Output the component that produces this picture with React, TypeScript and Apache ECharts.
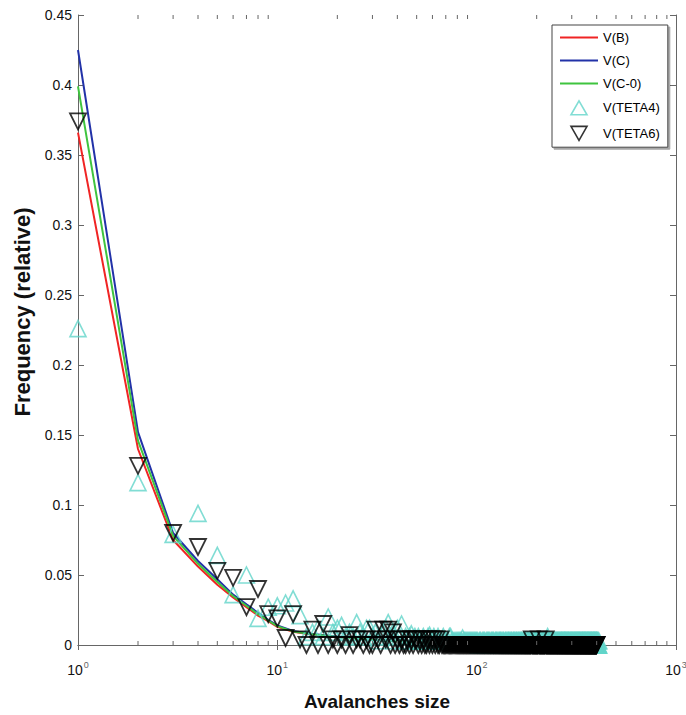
import React, { useEffect, useRef } from "react";
import * as echarts from "echarts";

// ---- data ----
const lineSizes = [1, 2, 3, 4, 5, 6, 7, 8, 9, 10, 12, 15, 20, 30, 50, 100, 200, 400];
const vB = [0.366, 0.14, 0.075, 0.056, 0.043, 0.034, 0.027, 0.021, 0.017, 0.013, 0.0094, 0.0073, 0.0056, 0.0037, 0.0018, 0.0007, 0.0003, 0.0001];
const vC = [0.425, 0.152, 0.08, 0.06, 0.047, 0.036, 0.029, 0.023, 0.018, 0.014, 0.01, 0.0078, 0.006, 0.004, 0.002, 0.0008, 0.0003, 0.0001];
const vC0 = [0.399, 0.146, 0.078, 0.058, 0.045, 0.035, 0.028, 0.022, 0.0175, 0.0135, 0.0097, 0.0076, 0.0058, 0.0038, 0.0019, 0.0008, 0.0003, 0.0001];

// TETA4: avalanche sizes 1..60
const teta4Head = [
  0.226, 0.116, 0.079, 0.094, 0.064, 0.036, 0.05, 0.019, 0.027, 0.028,
  0.03, 0.033, 0.021, 0.006, 0.009, 0.012, 0.006, 0.02, 0.009, 0.012,
  0.014, 0.006, 0.009, 0.006, 0.016, 0.009, 0.006, 0.012, 0.012, 0.006,
  0.009, 0.003, 0.006, 0.009, 0.012, 0.016, 0.006, 0.009, 0.003, 0.012,
  0.006, 0.015, 0.003, 0.006, 0.003, 0.006, 0.008, 0.003, 0.006, 0.003,
  0.006, 0.003, 0.003, 0.006, 0.003, 0.003, 0.006, 0.007, 0.003, 0.003,
];
// TETA4: avalanche sizes 61..410
const teta4Tail = [
  0.006, 0.003, 0.003, 0.006, 0.003, 0.003, 0.003, 0.006, 0.003, 0.003, 0.003, 0.003, 0.006, 0.006, 0.003, 0.003, 0.003, 0.003, 0.003, 0.003,
  0.003, 0.003, 0.003, 0.003, 0.005, 0.003, 0.003, 0.003, 0.003, 0.003, 0.003, 0.003, 0.003, 0.003, 0.003, 0.003, 0.003, 0.003, 0.003, 0.003,
  0.003, 0, 0.003, 0.003, 0.003, 0, 0.003, 0.003, 0.003, 0.003, 0, 0.003, 0.003, 0.003, 0.003, 0.003, 0, 0.003, 0.003, 0.003,
  0.003, 0.003, 0, 0.003, 0.003, 0.003, 0.003, 0, 0.003, 0.003, 0.003, 0.003, 0.003, 0, 0.003, 0.003, 0.003, 0, 0.003, 0.003,
  0.003, 0, 0.003, 0.003, 0.003, 0.003, 0, 0.003, 0.003, 0.003, 0, 0.003, 0.003, 0.003, 0.003, 0, 0.003, 0.003, 0.003, 0.003,
  0, 0.003, 0.003, 0.003, 0, 0.003, 0.003, 0.003, 0.003, 0, 0.003, 0.003, 0, 0.003, 0.003, 0.003, 0.003, 0, 0.003, 0.003,
  0.003, 0.003, 0, 0.003, 0.003, 0, 0.003, 0.003, 0.003, 0.003, 0, 0.003, 0.003, 0, 0.003, 0.003, 0.003, 0, 0.003, 0.003,
  0.003, 0, 0.003, 0.003, 0, 0.003, 0.003, 0.003, 0, 0.003, 0.003, 0, 0.003, 0.003, 0.003, 0, 0.003, 0.003, 0, 0.003,
  0.003, 0.003, 0, 0.003, 0.003, 0.003, 0.006, 0.003, 0, 0.003, 0.003, 0, 0.003, 0.003, 0, 0.003, 0.003, 0.003, 0, 0.003,
  0.003, 0, 0.003, 0.003, 0, 0.003, 0.003, 0, 0.003, 0.003, 0.003, 0, 0.003, 0.003, 0, 0.003, 0.003, 0, 0.003, 0.003,
  0, 0.003, 0.003, 0, 0.003, 0.003, 0.003, 0, 0.003, 0.003, 0, 0.003, 0.003, 0, 0.003, 0.003, 0.003, 0, 0.003, 0.003,
  0.003, 0, 0.003, 0.003, 0, 0.003, 0.003, 0, 0.003, 0.003, 0.003, 0, 0.003, 0, 0.003, 0.003, 0, 0.003, 0.003, 0,
  0.003, 0.003, 0, 0.003, 0.003, 0, 0.003, 0, 0.003, 0.003, 0, 0.003, 0.003, 0, 0.003, 0, 0.003, 0.003, 0, 0.003,
  0.003, 0, 0.003, 0.003, 0, 0.003, 0, 0.003, 0.003, 0, 0.003, 0, 0.003, 0.003, 0, 0.003, 0, 0.003, 0.003, 0,
  0.003, 0.003, 0, 0.003, 0, 0.003, 0.003, 0, 0.003, 0, 0.003, 0.003, 0, 0.003, 0, 0.003, 0, 0.003, 0.003, 0,
  0.003, 0, 0.003, 0.003, 0, 0.003, 0, 0.003, 0, 0.003, 0.003, 0, 0.003, 0, 0.003, 0, 0.003, 0.003, 0, 0.003,
  0, 0.003, 0, 0.003, 0.003, 0, 0.003, 0, 0.003, 0, 0.003, 0.003, 0, 0.003, 0, 0.003, 0, 0.003, 0, 0.003,
  0.003, 0, 0.003, 0, 0, 0.003, 0, 0, 0, 0.003,
];

// TETA6: avalanche sizes 1..45
const teta6Head = [
  0.374, 0.128, 0.08, 0.07, 0.053, 0.048, 0.027, 0.04, 0.022, 0.019,
  0.005, 0.022, 0.004, 0, 0.011, 0, 0.015, 0, 0.004, 0,
  0.004, 0, 0.007, 0, 0.004, 0.004, 0, 0.004, 0, 0,
  0.011, 0.004, 0, 0.011, 0.004, 0.011, 0, 0.009, 0, 0.004,
  0, 0.004, 0, 0, 0.004,
];
// TETA6: avalanche sizes 46..400
const teta6Tail = [
  0, 0.004, 0, 0.004, 0.004, 0, 0.004, 0, 0.004, 0, 0, 0.004, 0, 0.004, 0, 0.004, 0, 0.004, 0, 0,
  0.004, 0, 0, 0, 0, 0, 0, 0, 0, 0, 0, 0, 0, 0, 0, 0, 0, 0, 0, 0,
  0, 0, 0, 0, 0, 0, 0, 0, 0, 0, 0, 0, 0, 0, 0, 0, 0, 0, 0, 0,
  0, 0, 0, 0, 0, 0, 0, 0, 0, 0, 0, 0, 0, 0, 0, 0, 0, 0, 0, 0,
  0, 0, 0, 0, 0, 0, 0, 0, 0, 0, 0, 0, 0, 0, 0, 0, 0, 0, 0, 0,
  0, 0, 0, 0, 0, 0, 0, 0, 0, 0, 0, 0, 0, 0, 0, 0, 0, 0, 0, 0,
  0, 0, 0, 0, 0, 0, 0, 0, 0, 0, 0, 0, 0, 0, 0, 0, 0, 0, 0, 0,
  0, 0, 0, 0.004, 0, 0, 0, 0, 0, 0, 0, 0, 0, 0, 0, 0, 0, 0, 0, 0.004,
  0, 0, 0, 0, 0, 0, 0, 0, 0, 0, 0, 0, 0, 0, 0, 0, 0.004, 0, 0, 0,
  0, 0, 0, 0, 0, 0, 0, 0, 0, 0, 0, 0, 0, 0, 0, 0, 0, 0, 0, 0,
  0, 0, 0, 0, 0, 0, 0, 0, 0, 0, 0, 0, 0, 0, 0, 0, 0, 0, 0, 0,
  0, 0, 0, 0, 0, 0, 0, 0, 0, 0, 0, 0, 0, 0, 0, 0, 0, 0, 0, 0,
  0, 0, 0, 0, 0, 0, 0, 0, 0, 0, 0, 0, 0, 0, 0, 0, 0, 0, 0, 0,
  0, 0, 0, 0, 0, 0, 0, 0, 0, 0, 0, 0, 0, 0, 0, 0, 0, 0, 0, 0,
  0, 0, 0, 0, 0, 0, 0, 0, 0, 0, 0, 0, 0, 0, 0, 0, 0, 0, 0, 0,
  0, 0, 0, 0, 0, 0, 0, 0, 0, 0, 0, 0, 0, 0, 0, 0, 0, 0, 0, 0,
  0, 0, 0, 0, 0, 0, 0, 0, 0, 0, 0, 0, 0, 0, 0, 0, 0, 0, 0, 0,
  0, 0, 0, 0, 0, 0, 0, 0, 0, 0, 0, 0, 0, 0, 0,
];

const minorTickSizes = [2, 3, 4, 5, 6, 7, 8, 9, 20, 30, 40, 50, 60, 70, 80, 90, 200, 300, 400, 500, 600, 700, 800, 900];
const yMin = 0;
const yMax = 0.45;
const yStep = 0.05;
const xMin = 1;
const xMax = 1000;

const FONT = "'Liberation Sans', Arial, Helvetica, sans-serif";
const AXIS_COLOR = "#666";

const RED = "#f02424";
const BLUE = "#2232a8";
const GREEN = "#3fc43f";
const CYAN = "#62d4c9";

const LINE_ICON = "path://M0,0H38V2H0Z";
const UP_ICON = "path://M8,0L16,14L0,14Z";
const DOWN_ICON = "path://M0,0L16,0L8,14Z";

export default function App() {
  const ref = useRef<HTMLDivElement>(null);

  useEffect(() => {
    const chart = echarts.init(ref.current!, null, { renderer: "svg" });

    const teta4 = teta4Head.concat(teta4Tail).map((v, i) => [i + 1, v]);
    const teta6 = teta6Head.concat(teta6Tail).map((v, i) => [i + 1, v]);
    const pair = (ys: number[]) => lineSizes.map((x, i) => [x, ys[i]]);

    const option: any = {
      animation: false,
      backgroundColor: "#fff",
      grid: { left: 78, right: 10, top: 15, bottom: 70, containLabel: false, outerBoundsMode: "none" },
      legend: {
        orient: "vertical",
        left: 552,
        top: 25,
        padding: [6, 8, 6, 8],
        itemWidth: 38,
        itemHeight: 14,
        itemGap: 10,
        symbolKeepAspect: true,
        backgroundColor: "#fff",
        borderColor: "#444",
        borderWidth: 1,
        borderRadius: 0,
        shadowColor: "rgba(0,0,0,0.35)",
        shadowOffsetX: 2,
        shadowOffsetY: 2,
        shadowBlur: 0,
        textStyle: { fontFamily: FONT, fontSize: 13, color: "#000" },
        data: [
          { name: "V(B)", icon: LINE_ICON, itemStyle: { color: RED, borderWidth: 0 } },
          { name: "V(C)", icon: LINE_ICON, itemStyle: { color: BLUE, borderWidth: 0 } },
          { name: "V(C-0)", icon: LINE_ICON, itemStyle: { color: GREEN, borderWidth: 0 } },
          { name: "V(TETA4)", icon: UP_ICON, symbolRotate: 0, itemStyle: { color: "rgba(0,0,0,0)", borderColor: CYAN, borderWidth: 1.6 } },
          { name: "V(TETA6)", icon: DOWN_ICON, symbolRotate: 0, itemStyle: { color: "rgba(0,0,0,0)", borderColor: "#000", borderWidth: 1.6 } },
        ],
      },
      xAxis: [
        {
          type: "log",
          min: xMin,
          max: xMax,
          position: "bottom",
          name: "Avalanches size",
          nameLocation: "middle",
          nameGap: 47,
          nameTextStyle: { fontFamily: FONT, fontSize: 19, fontWeight: "bold", color: "#111" },
          axisLine: { show: true, lineStyle: { color: AXIS_COLOR, width: 1 } },
          axisTick: { show: true, inside: true, length: 5, lineStyle: { color: AXIS_COLOR } },
          splitLine: { show: false },
          axisLabel: {
            margin: 15,
            formatter: (v: number) => `{b|10}{s|${Math.round(Math.log10(v))}}`,
            rich: {
              b: { fontFamily: FONT, fontSize: 14, color: "#111", verticalAlign: "bottom" },
              s: { fontFamily: FONT, fontSize: 9, color: "#666", verticalAlign: "bottom", padding: [0, 0, 8, 1] },
            },
          },
        },
        {
          type: "log",
          min: xMin,
          max: xMax,
          position: "top",
          axisLine: { show: true, lineStyle: { color: AXIS_COLOR, width: 1 } },
          axisTick: { show: true, inside: true, length: 5, lineStyle: { color: AXIS_COLOR } },
          axisLabel: { show: false },
          splitLine: { show: false },
        },
      ],
      yAxis: [
        {
          type: "value",
          min: yMin,
          max: yMax,
          interval: yStep,
          position: "left",
          name: "Frequency (relative)",
          nameLocation: "middle",
          nameGap: 38,
          nameRotate: 90,
          nameTextStyle: { fontFamily: FONT, fontSize: 22, fontWeight: "bold", color: "#111", padding: [0, 0, 0, 36] },
          axisLine: { show: true, lineStyle: { color: AXIS_COLOR, width: 1 } },
          axisTick: { show: true, inside: true, length: 6, lineStyle: { color: AXIS_COLOR } },
          splitLine: { show: false },
          axisLabel: { margin: 6, fontFamily: FONT, fontSize: 14, color: "#111" },
        },
        {
          type: "value",
          min: yMin,
          max: yMax,
          interval: yStep,
          position: "right",
          axisLine: { show: true, lineStyle: { color: AXIS_COLOR, width: 1 } },
          axisTick: { show: true, inside: true, length: 6, lineStyle: { color: AXIS_COLOR } },
          axisLabel: { show: false },
          splitLine: { show: false },
        },
      ],
      series: [
        { name: "V(B)", type: "line", z: 1, data: pair(vB), symbol: "none", lineStyle: { color: RED, width: 2 }, itemStyle: { color: RED } },
        { name: "V(C)", type: "line", z: 1, data: pair(vC), symbol: "none", lineStyle: { color: BLUE, width: 2 }, itemStyle: { color: BLUE } },
        { name: "V(C-0)", type: "line", z: 1, data: pair(vC0), symbol: "none", lineStyle: { color: GREEN, width: 2 }, itemStyle: { color: GREEN } },
        {
          name: "V(TETA4)",
          type: "scatter",
          z: 3,
          data: teta4,
          symbol: "triangle",
          symbolSize: 16,
          clip: false,
          itemStyle: { color: "rgba(0,0,0,0)", borderColor: CYAN, borderWidth: 1.6 },
        },
        {
          name: "V(TETA6)",
          type: "scatter",
          z: 4,
          data: teta6,
          symbol: "triangle",
          symbolRotate: 180,
          symbolSize: 16,
          clip: false,
          itemStyle: { color: "rgba(0,0,0,0)", borderColor: "#000", borderWidth: 1.8 },
        },
        {
          name: "minorTicks",
          type: "custom",
          z: 5,
          silent: true,
          data: minorTickSizes.map((s) => [s, 0]),
          encode: { x: 0, y: 1 },
          renderItem: (_p: any, api: any) => {
            const x = api.value(0);
            const b = api.coord([x, yMin]);
            const t = api.coord([x, yMax]);
            const st = { stroke: AXIS_COLOR, lineWidth: 1 };
            return {
              type: "group",
              children: [
                { type: "line", shape: { x1: b[0], y1: b[1], x2: b[0], y2: b[1] - 4 }, style: st },
                { type: "line", shape: { x1: t[0], y1: t[1], x2: t[0], y2: t[1] + 4 }, style: st },
              ],
            };
          },
        },
      ],
    };

    chart.setOption(option);
    return () => chart.dispose();
  }, []);

  return <div ref={ref} style={{ position: "absolute", left: 0, top: 0, width: 686, height: 715 }} />;
}
